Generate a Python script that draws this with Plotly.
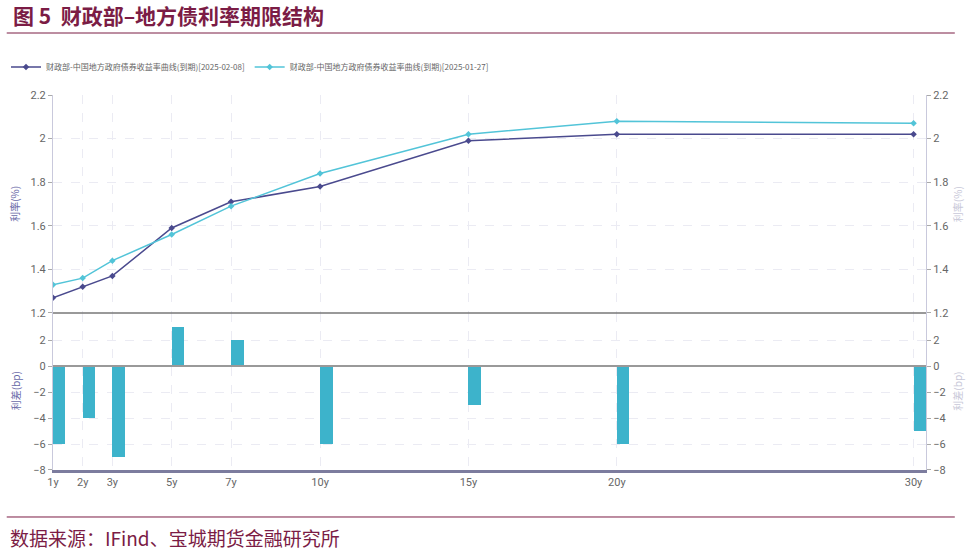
import plotly.graph_objects as go
from plotly.subplots import make_subplots

tenor_years = [1, 2, 3, 5, 7, 10, 15, 20, 30]
tenor_labels = ["1y", "2y", "3y", "5y", "7y", "10y", "15y", "20y", "30y"]
name_new = "财政部-中国地方政府债券收益率曲线(到期)[2025-02-08]"
name_old = "财政部-中国地方政府债券收益率曲线(到期)[2025-01-27]"
yield_new = [1.27, 1.32, 1.37, 1.59, 1.71, 1.78, 1.99, 2.02, 2.02]
yield_old = [1.33, 1.36, 1.44, 1.56, 1.69, 1.84, 2.02, 2.08, 2.07]
spread_bp = [-6, -4, -7, 3, 2, -6, -3, -6, -5]

top_ticks = [1.2, 1.4, 1.6, 1.8, 2.0, 2.2]
top_ticktext = ["1.2", "1.4", "1.6", "1.8", "2", "2.2"]
bot_ticks = [-8, -6, -4, -2, 0, 2]

C_NEW = "#4a4a8e"
C_OLD = "#52c4d8"
C_BAR = "#3db3cb"
MAROON = "#7b1c45"
GRID = "#ebebf3"
TICKFONT = dict(family="Liberation Sans Narrow, Roboto, sans-serif", size=11, color="#666666")

fig = make_subplots(rows=2, cols=1, shared_xaxes=True, vertical_spacing=0,
                    row_heights=[0.5813, 0.4187],
                    specs=[[{"secondary_y": True}], [{"secondary_y": True}]])

fig.add_trace(go.Scatter(x=tenor_years, y=yield_new, name=name_new, mode="lines+markers",
                         line=dict(color=C_NEW, width=1.5),
                         marker=dict(symbol="diamond", size=5, color=C_NEW)), row=1, col=1)
fig.add_trace(go.Scatter(x=tenor_years, y=yield_old, name=name_old, mode="lines+markers",
                         line=dict(color=C_OLD, width=1.5),
                         marker=dict(symbol="diamond", size=5, color=C_OLD)), row=1, col=1)
# secondary (right) axis carriers
fig.add_trace(go.Scatter(x=tenor_years, y=yield_new, mode="lines", line=dict(width=0, color="rgba(0,0,0,0)"),
                         showlegend=False, hoverinfo="skip"), row=1, col=1, secondary_y=True)
fig.add_trace(go.Bar(x=tenor_years, y=spread_bp, marker=dict(color=C_BAR, line=dict(width=0)),
                     width=0.42, offset=0, showlegend=False), row=2, col=1)
fig.add_trace(go.Scatter(x=tenor_years, y=spread_bp, mode="lines", line=dict(width=0, color="rgba(0,0,0,0)"),
                         showlegend=False, hoverinfo="skip"), row=2, col=1, secondary_y=True)

xcommon = dict(range=[1, 30.42], tickvals=tenor_years, ticktext=tenor_labels, domain=[0, 1],
               showgrid=True, gridcolor=GRID, griddash="dash", gridwidth=1,
               tickfont=TICKFONT, zeroline=False, automargin=False)
fig.update_xaxes(**xcommon, showticklabels=False, row=1, col=1)
fig.update_xaxes(**xcommon, showticklabels=True, ticks="", showline=True, linecolor="#7c7c9e",
                 linewidth=3, row=2, col=1)

ycommon = dict(showgrid=True, gridcolor=GRID, griddash="dash", zeroline=False,
               ticks="outside", ticklen=4, tickcolor="#aaaaaa", tickfont=TICKFONT,
               showline=True, linecolor="#c9c9dc", linewidth=1, automargin=False)
fig.update_yaxes(**ycommon, range=[1.2, 2.2], tickvals=top_ticks, ticktext=top_ticktext,
                 row=1, col=1, secondary_y=False)
fig.update_yaxes(**ycommon, range=[1.2, 2.2], tickvals=top_ticks, ticktext=top_ticktext,
                 row=1, col=1, secondary_y=True)
fig.update_yaxes(**ycommon, range=[-8, 4.08], tickvals=bot_ticks,
                 row=2, col=1, secondary_y=False)
fig.update_yaxes(**ycommon, range=[-8, 4.08], tickvals=bot_ticks,
                 row=2, col=1, secondary_y=True)

# zero line in bottom panel and boundary line
fig.add_shape(type="line", xref="x2 domain", yref="y3", x0=0, x1=1, y0=0, y1=0,
              line=dict(color="#999999", width=2))
fig.add_shape(type="line", xref="paper", yref="paper", x0=0, x1=1, y0=0.4187, y1=0.4187,
              line=dict(color="#777777", width=1.5))

# header / footer
fig.add_shape(type="line", xref="paper", yref="paper", x0=-0.053, x1=1.033, y0=1.1653, y1=1.1653,
              line=dict(color=MAROON, width=1))
fig.add_shape(type="line", xref="paper", yref="paper", x0=-0.053, x1=1.033, y0=-0.1253, y1=-0.1253,
              line=dict(color=MAROON, width=1))

fig.add_annotation(text="<b>图 5  财政部–地方债利率期限结构</b>", xref="paper", yref="paper",
                   x=-0.0485, y=1.2133, xanchor="left", yanchor="middle", showarrow=False,
                   font=dict(family="Noto Sans CJK SC", size=21, color=MAROON))
fig.add_annotation(text="数据来源：IFind、宝城期货金融研究所", xref="paper", yref="paper",
                   x=-0.0515, y=-0.1787, xanchor="left", yanchor="middle", showarrow=False,
                   font=dict(family="Noto Sans CJK SC", size=19, color=MAROON))

fig.add_annotation(text="利率(%)", xref="paper", yref="paper", x=-0.0435, y=0.71,
                   textangle=-90, showarrow=False, xanchor="center", yanchor="middle",
                   font=dict(family="Noto Sans CJK SC", size=10, color="#6a6aa8"))
fig.add_annotation(text="利差(bp)", xref="paper", yref="paper", x=-0.0435, y=0.21,
                   textangle=-90, showarrow=False, xanchor="center", yanchor="middle",
                   font=dict(family="Noto Sans CJK SC", size=10, color="#6a6aa8"))
fig.add_annotation(text="利率(%)", xref="paper", yref="paper", x=1.036, y=0.71,
                   textangle=-90, showarrow=False, xanchor="center", yanchor="middle",
                   font=dict(family="Noto Sans CJK SC", size=10, color="#c8c8d8"))
fig.add_annotation(text="利差(bp)", xref="paper", yref="paper", x=1.036, y=0.21,
                   textangle=-90, showarrow=False, xanchor="center", yanchor="middle",
                   font=dict(family="Noto Sans CJK SC", size=10, color="#c8c8d8"))

fig.update_layout(
    width=968, height=551,
    margin=dict(l=53, r=42, t=95, b=81, autoexpand=False),
    plot_bgcolor="white", paper_bgcolor="white",
    bargap=0,
    legend=dict(orientation="h", xref="container", yref="container",
                x=6 / 968, y=1 - 67 / 551, xanchor="left", yanchor="middle",
                font=dict(family="Noto Sans CJK SC", size=8, color="#666666"),
                itemwidth=30, tracegroupgap=0, bgcolor="rgba(0,0,0,0)"),
    showlegend=True,
)

fig.write_html("out.html", config={"displayModeBar": False},
               post_script="document.body.style.margin='0';document.body.style.padding='0';"
                           "document.body.style.overflow='hidden';")
